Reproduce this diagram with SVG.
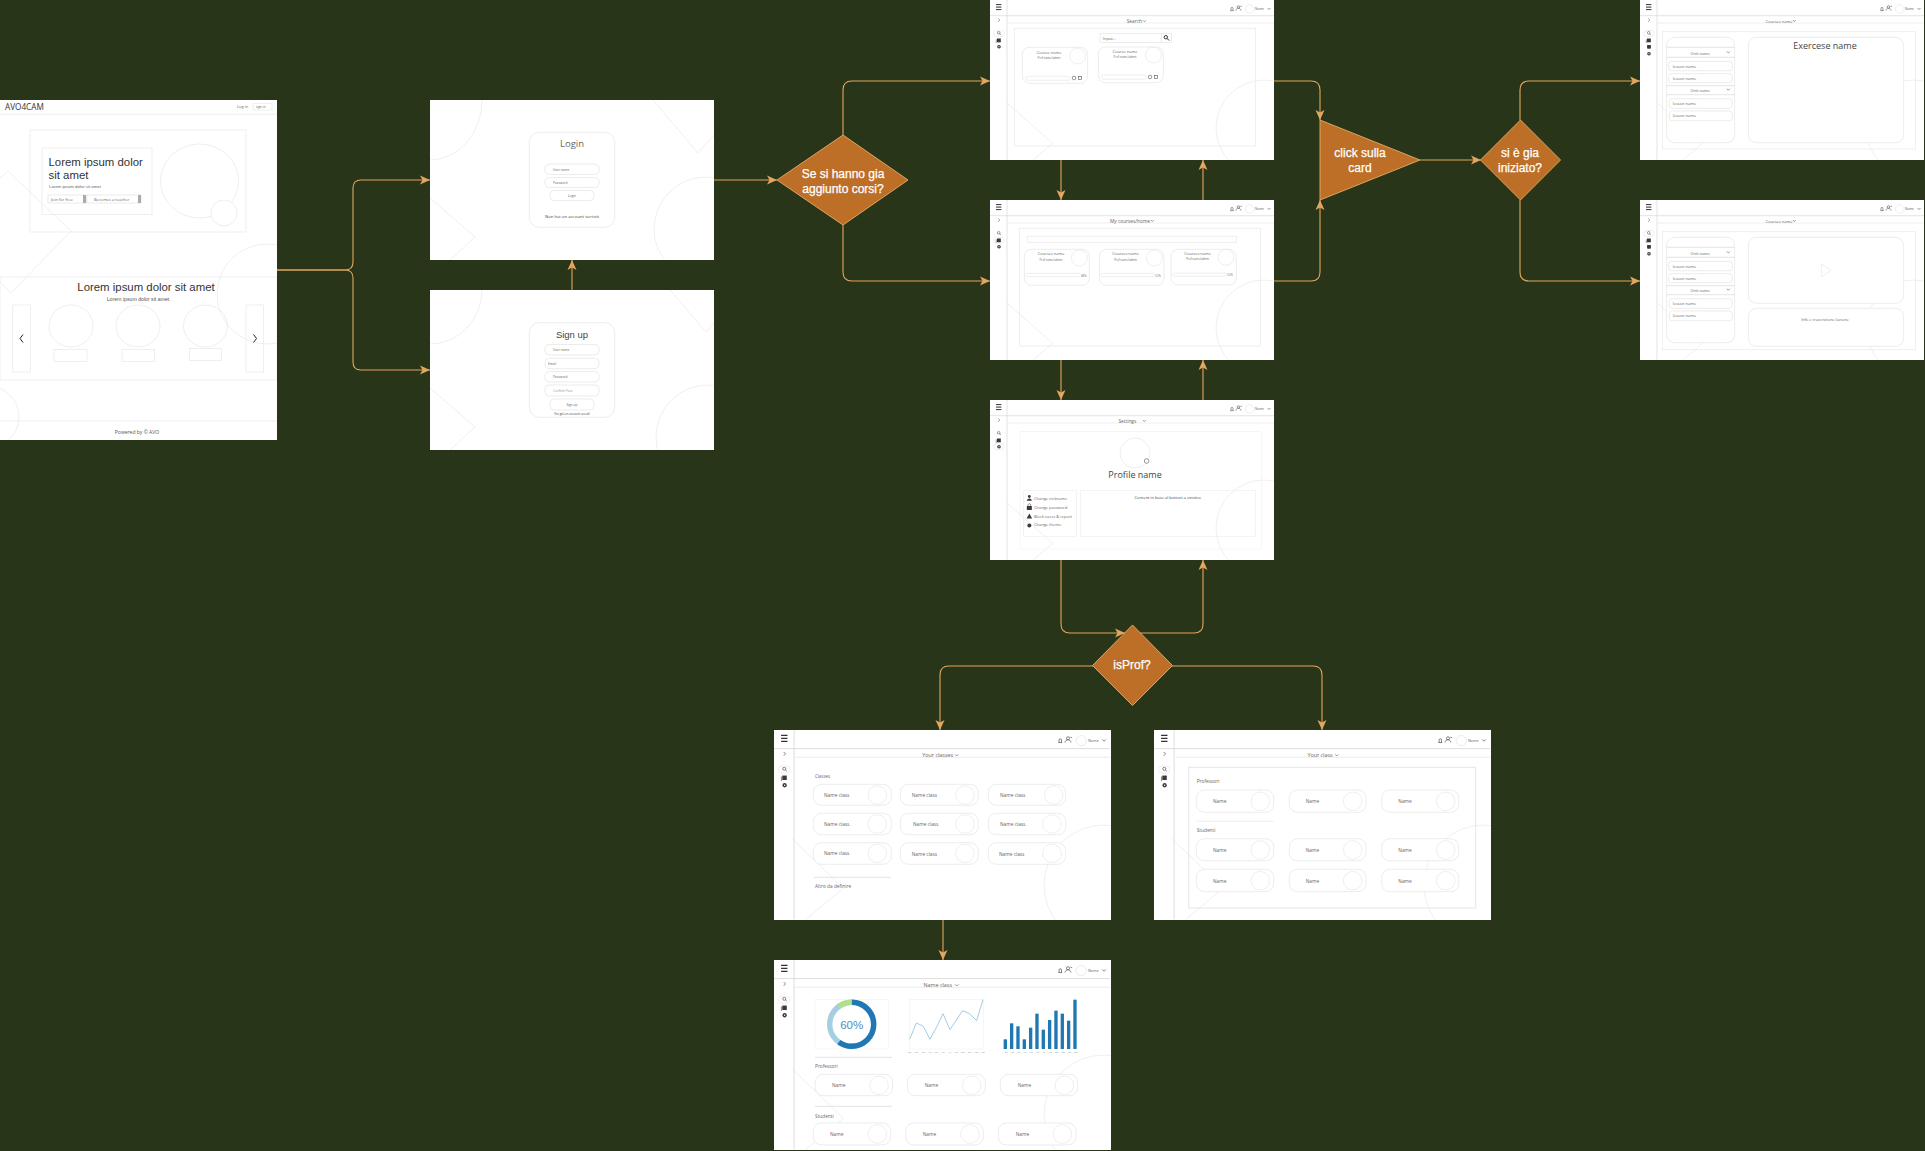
<svg xmlns="http://www.w3.org/2000/svg" xmlns:xlink="http://www.w3.org/1999/xlink" width="1925" height="1151" viewBox="0 0 1925 1151">
<style>
.scr{fill:#fff}
.bg{fill:none;stroke:#e8e8e8;stroke-width:.7}
.ln{fill:none;stroke:#ebebeb;stroke-width:.8}
.dk{fill:none;stroke:#dcdcdc;stroke-width:.8}
.box{fill:#fff;stroke:#e4e4e4;stroke-width:.7}
.ph{fill:none;stroke:#e2e2e2;stroke-width:.6}
.ic{fill:#3a3a3a}
.icl{fill:none;stroke:#555;stroke-width:.6}
text{font-family:"Open Sans","Noto Sans",sans-serif;fill:#666}
.m{text-anchor:middle}
.s3{font-size:3.2px}.s4{font-size:4px}.s5{font-size:4.8px}.s55{font-size:5.4px}
.ar{font-family:"Liberation Sans",Arial,sans-serif;fill:#333}
.dec{fill:#bd6f27;stroke:#dba55f;stroke-width:1}
.dt{font-family:"Liberation Sans",Arial,sans-serif;font-size:12px;fill:#fff;stroke:#fff;stroke-width:.25;text-anchor:middle}
.c{fill:none;stroke:#e2a65f;stroke-width:1.1;marker-end:url(#ah)}
</style>
<defs>
<marker id="ah" markerUnits="userSpaceOnUse" markerWidth="10" markerHeight="10" viewBox="0 0 10 10" refX="10" refY="5" orient="auto"><path d="M0,0.5 L10,5 L0,9.5 L2.5,5 Z" fill="#e2a65f"/></marker>
<clipPath id="cs"><rect width="284" height="160"/></clipPath>
<clipPath id="cl"><rect width="337" height="190"/></clipPath>
<clipPath id="ca"><rect width="277" height="340"/></clipPath>
<g id="chrome">
<path class="dk" d="M0,15.7H284M17,0V160"/><path class="ln" d="M17,23H284"/>
<path d="M6,4.6h5.4M6,7.1h5.4M6,9.6h5.4" stroke="#333" stroke-width="1" fill="none"/>
<path class="icl" d="M8.2,18.6l1.6,1.6-1.6,1.6"/>
<path class="icl" d="M240.4,10.6h3.2M241,10.6v-2.2a1,1 0 0 1 2,0v2.2"/>
<circle class="icl" cx="248.5" cy="7" r="1.3"/><path class="icl" d="M246,10.6c.3-3.2 4.7-3.2 5,0M250.5,6l1.5,.6"/>
<circle class="ph" cx="259.7" cy="9" r="4.3"/>
<path class="icl" d="M277.5,8l1.5,1.5 1.5-1.5"/>
<circle class="icl" cx="8.7" cy="32.8" r="1.3"/><path class="icl" d="M9.6,33.7l1.3,1.3"/>
<rect class="ic" x="7" y="38.5" width="3.8" height="3.8"/><path class="icl" d="M6.3,43V39.3"/>
<circle class="ic" cx="9" cy="46.7" r="1.8"/><circle cx="9" cy="46.7" r=".6" fill="#fff"/>
</g>
<g id="bgs">
<path class="bg" d="M17,103L62.7,143.3 43,160"/><ellipse class="bg" cx="274" cy="128" rx="48" ry="48"/>
</g>
<g id="bgl">
<path class="bg" d="M17.7,108.3L69.3,158.3 31,190"/><circle class="bg" cx="330" cy="155" r="60"/>
</g>
</defs>
<rect width="1925" height="1151" fill="#293518"/>

<g id="connectors">
<path class="c" d="M277,270H345Q353,270 353,262V188Q353,180 361,180H430"/>
<path class="c" d="M277,270H345Q353,270 353,278V362Q353,370 361,370H430"/>
<path class="c" d="M572,290V260"/>
<path class="c" d="M714,180H777"/>
<path class="c" d="M843,135V90Q843,81 852,81H990"/>
<path class="c" d="M843,225V272Q843,281 852,281H990"/>
<path class="c" d="M1061,160V200"/>
<path class="c" d="M1203,200V160"/>
<path class="c" d="M1061,360V400"/>
<path class="c" d="M1203,400V360"/>
<path class="c" d="M1274,81H1311Q1320,81 1320,90V120"/>
<path class="c" d="M1274,281H1311Q1320,281 1320,272V200"/>
<path class="c" d="M1420,160H1481"/>
<path class="c" d="M1520,120V90Q1520,81 1529,81H1640"/>
<path class="c" d="M1520,200V272Q1520,281 1529,281H1640"/>
<path class="c" d="M1061,560V624Q1061,633 1070,633H1125"/>
<path class="c" d="M1140,633H1194Q1203,633 1203,624V560"/>
<path class="c" d="M1093,666H949Q940,666 940,675V730"/>
<path class="c" d="M1172,666H1313Q1322,666 1322,675V730"/>
<path class="c" d="M943,920V960"/>
</g>

<g id="home" transform="translate(0,100)">
<rect class="scr" width="277" height="340"/>
<g clip-path="url(#ca)">
<path class="bg" d="M0,78L8,71 71,131 11,193 0,182"/><circle class="bg" cx="267" cy="194" r="50"/><circle class="bg" cx="-12" cy="317" r="31"/>
<path class="ln" d="M0,14.3H277M0,321H277"/>
<rect class="ln" x="30" y="30" width="216" height="102"/><rect class="ln" x="42" y="48" width="110" height="66.5"/>
<ellipse class="ph" cx="199.5" cy="81" rx="39" ry="37"/><circle class="ph" cx="224" cy="113" r="13" style="fill:#fff"/>
<rect class="ln" x="0" y="177" width="277" height="103"/>
<rect class="ln" x="12.7" y="205" width="17.8" height="67"/><rect class="ln" x="246" y="205" width="17.5" height="67"/>
<path d="M23,234.5l-3,4 3,4M253.5,234.5l3,4-3,4" fill="none" stroke="#222" stroke-width="1"/>
<ellipse class="ph" cx="71" cy="226" rx="22" ry="21"/><ellipse class="ph" cx="138" cy="226" rx="22" ry="21"/><ellipse class="ph" cx="205.5" cy="226" rx="22" ry="21"/>
<rect class="ln" x="54" y="249.5" width="33" height="12"/><rect class="ln" x="122" y="249.5" width="32.5" height="12"/><rect class="ln" x="189.5" y="248.5" width="32" height="12"/>
<rect x="48" y="95" width="38" height="8" fill="#fff" stroke="#ddd" stroke-width=".6"/><rect x="83" y="95" width="3" height="8" fill="#aaa"/>
<rect x="87" y="95" width="54" height="8" fill="#fff" stroke="#ddd" stroke-width=".6"/><rect x="138" y="95" width="3" height="8" fill="#aaa"/>
</g>
<text x="5" y="10" style="font-size:8.2px;fill:#333">AVO4CAM</text>
<text class="s4" x="237" y="8">Log in</text><rect class="ln" x="253" y="3.5" width="19" height="6.5"/><text class="s3" x="256" y="8">sign in</text>
<text class="ar" x="48.5" y="66" style="font-size:11.4px">Lorem ipsum dolor</text><text class="ar" x="48.5" y="79" style="font-size:11.4px">sit amet</text>
<text class="ar" x="49" y="88" style="font-size:4.3px;fill:#666">Lorem ipsum dolor sit amet</text>
<text class="s4" x="51" y="100.5">Join for free</text><text class="s4" x="94" y="100.5">Becomes a teacher</text>
<text class="ar m" x="146" y="191" style="font-size:11.4px">Lorem ipsum dolor sit amet</text>
<text class="ar m" x="138" y="200.5" style="font-size:5.2px;fill:#555">Lorem ipsum dolor sit amet</text>
<text class="s55 m" x="137" y="333.5" style="fill:#555;font-size:5px">Powered by © AVO</text>
</g>

<g id="login" transform="translate(430,100)">
<rect class="scr" width="284" height="160"/>
<g clip-path="url(#cs)">
<ellipse class="bg" cx="0" cy="0" rx="52" ry="60"/><path class="bg" d="M0,98L45,137 20,160"/><path class="bg" d="M223,0L268,53 284,35"/><circle class="bg" cx="276" cy="129" r="52"/>
<rect class="box" x="99.3" y="32.3" width="85.4" height="95" rx="10"/>
<rect class="box" x="115" y="64" width="54" height="10.5" rx="4"/><rect class="box" x="115" y="77.5" width="54" height="10" rx="4"/><rect class="box" x="120" y="90.5" width="44" height="10" rx="4"/>
</g>
<text class="m" x="142" y="46.7" style="font-size:9.5px">Login</text>
<text class="s3" x="123" y="70.5">User name</text><text class="s3" x="123" y="83.5">Password</text><text class="s3 m" x="142" y="96.5">Login</text>
<text class="m" x="142" y="118" style="font-size:4.3px;fill:#444">Non hai un account iscriviti</text>
</g>

<g id="signup" transform="translate(430,290)">
<rect class="scr" width="284" height="160"/>
<g clip-path="url(#cs)">
<ellipse class="bg" cx="0" cy="0" rx="52" ry="54"/><path class="bg" d="M0,98L45,137 20,160"/><path class="bg" d="M240,0L276,42 284,33"/><circle class="bg" cx="278" cy="147" r="52"/>
<rect class="box" x="99.3" y="32.7" width="85.4" height="94.6" rx="10"/>
<rect class="box" x="115" y="54.5" width="54" height="10.5" rx="4"/><rect class="box" x="115" y="68.3" width="54" height="10.4" rx="4"/><rect class="box" x="115" y="81.5" width="54" height="10.5" rx="4"/><rect class="box" x="115" y="95" width="54" height="11" rx="4"/><rect class="box" x="120" y="109" width="44" height="11" rx="4"/>
</g>
<text class="ar m" x="142" y="48" style="font-size:9.5px;fill:#444">Sign up</text>
<text class="s3" x="123" y="61">User name</text><text class="s3" x="118" y="75">Email</text><text class="s3" x="123" y="88">Password</text><text class="s3" x="123" y="102" style="fill:#999">Confirm Pass</text><text class="s3 m" x="142" y="115.5">Sign up</text>
<text class="m" x="142" y="125" style="font-size:3px;fill:#444">Hai già un account accedi</text>
</g>

<g id="search" transform="translate(990,0)">
<rect class="scr" width="284" height="160"/>
<g clip-path="url(#cs)"><use href="#bgs"/><use href="#chrome"/></g>
<rect class="ln" x="3.6" y="30.5" width="10.6" height="6" rx="3"/>
<text class="s3" x="265" y="10">Name</text>
<g transform="translate(-6.67,0)">
<rect class="ln" x="31" y="28.3" width="241" height="117.7"/>
<rect class="box" x="116.7" y="33.3" width="61.3" height="9"/><rect class="box" x="178" y="33.3" width="10" height="9"/>
<circle class="icl" cx="182.5" cy="37.2" r="1.7" style="stroke:#222;stroke-width:.9"/><path d="M183.8,38.5l2,2" stroke="#222" stroke-width="1"/>
<rect class="box" x="39" y="47.3" width="65.3" height="36" rx="7"/><circle class="ph" cx="94.3" cy="56" r="8"/><rect class="ln" x="42.7" y="76.3" width="44" height="4" rx="1"/>
<circle class="icl" cx="90.7" cy="78" r="1.8"/><rect class="icl" x="95" y="76.4" width="3.2" height="3.2"/>
<rect class="box" x="115" y="47" width="65" height="35.7" rx="7"/><circle class="ph" cx="170" cy="55" r="8"/><rect class="ln" x="118.7" y="75" width="43.6" height="4.3" rx="1"/>
<circle class="icl" cx="166.7" cy="77" r="1.8"/><rect class="icl" x="171" y="75.4" width="3.2" height="3.2"/>
<text class="s5 m" x="151" y="22.6">Search</text><path class="icl" d="M159.5,20.3l1.5,1.5 1.5-1.5"/>
<text class="s4" x="119.5" y="39.8">Input...</text>
<text class="s4 m" x="65.7" y="53.8">Course name</text><text class="m" x="65.7" y="59" style="font-size:2.8px">Prof name/admin</text>
<text class="s4 m" x="141.7" y="53.3">Course name</text><text class="m" x="141.7" y="58.2" style="font-size:2.8px">Prof name/admin</text>
</g>
</g>

<g id="mycourses" transform="translate(990,200)">
<rect class="scr" width="284" height="160"/>
<g clip-path="url(#cs)"><use href="#bgs"/><use href="#chrome"/></g>
<rect class="ln" x="3.6" y="37.2" width="10.6" height="6" rx="3"/>
<text class="s3" x="265" y="10">Name</text>
<g transform="translate(-6.67,0)">
<rect class="ln" x="36" y="28.3" width="241.3" height="117.7"/><rect class="ln" x="44" y="36.3" width="209.3" height="6"/>
<rect class="box" x="41" y="49.3" width="65" height="36" rx="7"/><circle class="ph" cx="96" cy="58" r="8"/><rect class="ln" x="42.7" y="73.3" width="54" height="3.4" rx="1"/>
<rect class="box" x="116" y="49.3" width="64.7" height="36" rx="7"/><circle class="ph" cx="171" cy="58" r="8"/><rect class="ln" x="117.7" y="73.3" width="53.3" height="3.4" rx="1"/>
<rect class="box" x="187.7" y="49.3" width="65.3" height="35.5" rx="7"/><circle class="ph" cx="242.7" cy="57.3" r="8"/><rect class="ln" x="189.7" y="73" width="53.3" height="3.4" rx="1"/>
<text class="s5 m" x="146.7" y="22.6">My courses/home</text><path class="icl" d="M167.5,20l1.5,1.5 1.5-1.5"/>
<text class="s4 m" x="67.7" y="55.3">Courses name</text><text class="m" x="67.7" y="60.5" style="font-size:2.8px">Prof name/admin</text><text x="97.7" y="76.7" style="font-size:2.8px">48%</text>
<text class="s4 m" x="142.3" y="55.3">Courses name</text><text class="m" x="142.3" y="60.5" style="font-size:2.8px">Prof name/admin</text><text x="172" y="76.7" style="font-size:2.8px">52%</text>
<text class="s4 m" x="214.3" y="54.6">Courses name</text><text class="m" x="214.3" y="59.8" style="font-size:2.8px">Prof name/admin</text><text x="244" y="76.4" style="font-size:2.8px">52%</text>
</g>
</g>

<g id="settings" transform="translate(990,400)">
<rect class="scr" width="284" height="160"/>
<g clip-path="url(#cs)"><use href="#bgs"/><use href="#chrome"/></g>
<rect class="ln" x="3.6" y="43.7" width="10.6" height="6" rx="3"/>
<text class="s3" x="265" y="10">Name</text>
<g transform="translate(-6.67,0)">
<rect x="36.7" y="31.7" width="241.3" height="117.3" fill="none" stroke="#f2f2f2" stroke-width=".7"/>
<circle class="ph" cx="151.7" cy="53" r="15"/><circle class="icl" cx="163.3" cy="61" r="2.3" style="fill:#fff"/>
<rect x="40" y="90.7" width="53.3" height="45.6" fill="none" stroke="#eee" stroke-width=".7"/><rect x="97.3" y="90.7" width="174.7" height="45.6" fill="none" stroke="#eee" stroke-width=".7"/>
<circle class="ic" cx="46" cy="96.5" r="1.4"/><path class="ic" d="M43.5,100.8c.4-3.2 4.6-3.2 5,0z"/>
<rect class="ic" x="43.5" y="106" width="5" height="4"/><path class="icl" d="M44.7,106v-1a1.3,1.3 0 0 1 2.6,0v1"/>
<path class="ic" d="M46,113.5l2.8,5h-5.6z"/>
<circle class="ic" cx="46" cy="125.5" r="2"/>
<text class="s5 m" x="144" y="22.6">Settings</text><path class="icl" d="M159.5,20l1.5,1.5 1.5-1.5"/>
<text class="m" x="151.7" y="78.3" style="font-size:9px;fill:#444">Profile name</text>
<text class="s4 m" x="184.3" y="98.5" style="fill:#444">Content in base al bottoni a sinistra</text>
<text class="s4" x="50.7" y="99.5">Change nickname</text><text class="s4" x="50.7" y="108.5">Change password</text><text class="s4" x="50.7" y="117.5">Block users &amp; report</text><text class="s4" x="50.7" y="126.3">Change theme</text>
</g>
</g>

<g id="exercise" transform="translate(1640,0)">
<rect class="scr" width="284" height="160"/>
<g clip-path="url(#cs)"><use href="#bgs"/><use href="#chrome"/></g>
<rect class="ln" x="3.6" y="30.5" width="10.6" height="6" rx="3"/>
<rect class="ic" x="7.2" y="45" width="3.6" height="3.6"/><circle class="ic" cx="9" cy="53.7" r="1.8"/><circle cx="9" cy="53.7" r=".6" fill="#fff"/>
<text class="s3" x="265" y="10">Name</text>
<g transform="translate(-6.67,0)">
<rect class="ln" x="29" y="31.7" width="253" height="117.3"/>
<rect class="box" x="33.3" y="37.3" width="68" height="105.4" rx="8"/><rect class="box" x="115" y="37.3" width="155.3" height="105.4" rx="8"/>
<path class="dk" d="M33.3,47.3H101.3M33.3,57.3H101.3M33.3,85.7H101.3M33.3,94.7H101.3"/>
<rect class="box" x="35.3" y="61.3" width="63.7" height="9.4" rx="3"/><rect class="box" x="35.3" y="73.7" width="63.7" height="9" rx="3"/><rect class="box" x="36" y="98.7" width="63" height="9.6" rx="3"/><rect class="box" x="36" y="111" width="63" height="9.7" rx="3"/>
<path class="icl" d="M93.5,51.5l1.5,1.5 1.5-1.5M93.5,88.7l1.5,1.5 1.5-1.5"/>
<text class="s4 m" x="145.7" y="22.6">Courses name</text><path class="icl" d="M159.5,20l1.5,1.5 1.5-1.5"/>
<text class="s4 m" x="67" y="54.5">Unit name</text><text class="s4 m" x="67" y="91.7">Unit name</text>
<text class="s4" x="39.3" y="67.5">lesson name</text><text class="s4" x="39.3" y="79.7">lesson name</text><text class="s4" x="39.3" y="105">lesson name</text><text class="s4" x="39.3" y="117">lesson name</text>
<text class="m" x="191.7" y="49" style="font-size:9px;fill:#444">Exercese name</text>
</g>
</g>

<g id="video" transform="translate(1640,200)">
<rect class="scr" width="284" height="160"/>
<g clip-path="url(#cs)"><use href="#bgs"/><use href="#chrome"/></g>
<rect class="ln" x="3.6" y="30.5" width="10.6" height="6" rx="3"/>
<rect class="ic" x="7.2" y="45" width="3.6" height="3.6"/><circle class="ic" cx="9" cy="53.7" r="1.8"/><circle cx="9" cy="53.7" r=".6" fill="#fff"/>
<text class="s3" x="265" y="10">Name</text>
<g transform="translate(-6.67,0)">
<rect class="ln" x="29" y="31.7" width="253" height="118"/>
<rect class="box" x="33.3" y="37.3" width="68" height="105.4" rx="8"/><rect class="box" x="115" y="37.3" width="155.3" height="66" rx="8"/><rect class="box" x="115" y="108.3" width="155.3" height="38" rx="8"/>
<path class="ph" d="M188.3,64L197.7,70.3 188.3,76.7Z"/>
<path class="dk" d="M33.3,47.3H101.3M33.3,57.3H101.3M33.3,85.7H101.3M33.3,94.7H101.3"/>
<rect class="box" x="35.3" y="61.3" width="63.7" height="9.4" rx="3"/><rect class="box" x="35.3" y="73.7" width="63.7" height="9" rx="3"/><rect class="box" x="36" y="98.7" width="63" height="9.6" rx="3"/><rect class="box" x="36" y="111" width="63" height="9.7" rx="3"/>
<path class="icl" d="M93.5,51.5l1.5,1.5 1.5-1.5M93.5,88.7l1.5,1.5 1.5-1.5"/>
<text class="s4 m" x="145.7" y="22.6">Courses name</text><path class="icl" d="M159.5,20l1.5,1.5 1.5-1.5"/>
<text class="s4 m" x="67" y="54.5">Unit name</text><text class="s4 m" x="67" y="91.7">Unit name</text>
<text class="s4" x="39.3" y="67.5">lesson name</text><text class="s4" x="39.3" y="79.7">lesson name</text><text class="s4" x="39.3" y="105">lesson name</text><text class="s4" x="39.3" y="117">lesson name</text>
<text class="s4 m" x="191.7" y="120.5">Info e trascrizione lezione</text>
</g>
</g>

<g id="classes" transform="translate(774,730)">
<rect class="scr" width="337" height="190"/>
<g clip-path="url(#cl)"><use href="#bgl"/><use href="#chrome" transform="scale(1.183)"/></g>
<rect class="ln" x="4.3" y="36" width="11.7" height="7.3" rx="3.6"/>
<text class="s55 m" x="163.7" y="26.6">Your classes</text><path class="icl" d="M181,24.3l1.7,1.7 1.7-1.7"/>
<text x="314" y="12" style="font-size:3.8px">Name</text>
<text class="s4" x="41" y="48" style="font-size:4.4px">Classes</text>
<rect class="box" x="39.3" y="54.3" width="78" height="21" rx="8"/><rect class="box" x="126.3" y="54.3" width="78" height="21" rx="8"/><rect class="box" x="214.3" y="54.3" width="77.4" height="21" rx="8"/>
<rect class="box" x="39.3" y="83.3" width="78" height="21.4" rx="8"/><rect class="box" x="126.3" y="83.3" width="78" height="21.4" rx="8"/><rect class="box" x="214.3" y="83.3" width="77.4" height="21.4" rx="8"/>
<rect class="box" x="39.3" y="112.7" width="78" height="21.6" rx="8"/><rect class="box" x="126.3" y="112.7" width="78" height="21.6" rx="8"/><rect class="box" x="214.3" y="112.7" width="77.4" height="21.6" rx="8"/>
<circle class="ph" cx="103.3" cy="65" r="9.3"/><circle class="ph" cx="191" cy="65" r="9.3"/><circle class="ph" cx="279.7" cy="65" r="9.3"/>
<circle class="ph" cx="103.3" cy="94" r="9.3"/><circle class="ph" cx="191" cy="94" r="9.3"/><circle class="ph" cx="278" cy="94" r="9.3"/>
<circle class="ph" cx="103.3" cy="123.3" r="9.3"/><circle class="ph" cx="191" cy="123.3" r="9.3"/><circle class="ph" cx="278" cy="123.3" r="9.3"/>
<text class="s5" x="50" y="67">Name class</text><text class="s5" x="137.7" y="67">Name class</text><text class="s5" x="226" y="67">Name class</text>
<text class="s5" x="50" y="96">Name class</text><text class="s5" x="139" y="96">Name class</text><text class="s5" x="226" y="96">Name class</text>
<text class="s5" x="50" y="125.3">Name class</text><text class="s5" x="137.7" y="125.7">Name class</text><text class="s5" x="225" y="125.7">Name class</text>
<path class="dk" d="M39.7,147.3H117"/>
<text class="s5" x="41" y="158">Altro da definire</text>
</g>

<g id="yourclass" transform="translate(1154,730)">
<rect class="scr" width="337" height="190"/>
<g clip-path="url(#cl)"><use href="#bgl"/><use href="#chrome" transform="scale(1.183)"/></g>
<rect class="ln" x="4.3" y="36" width="11.7" height="7.3" rx="3.6"/>
<text class="s55 m" x="166" y="26.6">Your class</text><path class="icl" d="M181,24.3l1.7,1.7 1.7-1.7"/>
<text x="314" y="12" style="font-size:3.8px">Name</text>
<rect x="34.7" y="37.3" width="287" height="140.7" fill="none" stroke="#e6e6e6" stroke-width="1"/>
<text class="s5" x="42.7" y="53.3">Professori</text><text class="s5" x="42.7" y="101.7">Studenti</text>
<path class="ln" d="M42.3,91.3H119.7"/>
<rect class="box" x="42.3" y="60" width="77.4" height="22.3" rx="8"/><rect class="box" x="135.3" y="60" width="76.7" height="22.3" rx="8"/><rect class="box" x="227.7" y="60" width="77" height="22.3" rx="8"/>
<rect class="box" x="42.3" y="108.7" width="77.4" height="22" rx="8"/><rect class="box" x="135.3" y="108.7" width="76.7" height="22" rx="8"/><rect class="box" x="227.7" y="108.7" width="77" height="22" rx="8"/>
<rect class="box" x="42.3" y="139.3" width="77.4" height="22.4" rx="8"/><rect class="box" x="135.3" y="139.3" width="76.7" height="22.4" rx="8"/><rect class="box" x="227.7" y="139.3" width="77" height="22.4" rx="8"/>
<circle class="ph" cx="106.3" cy="71.3" r="9.3"/><circle class="ph" cx="198.7" cy="71.3" r="9.3"/><circle class="ph" cx="291.7" cy="71.3" r="9.3"/>
<circle class="ph" cx="106.3" cy="120" r="9.3"/><circle class="ph" cx="198.7" cy="120" r="9.3"/><circle class="ph" cx="291.7" cy="120" r="9.3"/>
<circle class="ph" cx="106.3" cy="150.7" r="9.3"/><circle class="ph" cx="198.7" cy="150.7" r="9.3"/><circle class="ph" cx="291.7" cy="150.7" r="9.3"/>
<text class="s5" x="59" y="73">Name</text><text class="s5" x="151.7" y="73">Name</text><text class="s5" x="244.3" y="73">Name</text>
<text class="s5" x="59" y="122">Name</text><text class="s5" x="151.7" y="122">Name</text><text class="s5" x="244.3" y="122">Name</text>
<text class="s5" x="59" y="152.5">Name</text><text class="s5" x="151.7" y="152.5">Name</text><text class="s5" x="244.3" y="152.5">Name</text>
</g>

<g id="nameclass" transform="translate(774,960)">
<rect class="scr" width="337" height="190"/>
<g clip-path="url(#cl)"><use href="#bgl"/><use href="#chrome" transform="scale(1.183)"/></g>
<rect class="ln" x="4.3" y="36" width="11.7" height="7.3" rx="3.6"/>
<text class="s55 m" x="163.7" y="26.6">Name class</text><path class="icl" d="M181,24.3l1.7,1.7 1.7-1.7"/>
<text x="314" y="12" style="font-size:3.8px">Name</text>
<rect x="41" y="39.3" width="73.3" height="49.7" fill="#fff" stroke="#f2f2f2" stroke-width=".6"/>
<circle cx="77.7" cy="64.3" r="22" fill="none" stroke="#a6cee3" stroke-width="5.4"/>
<circle cx="77.7" cy="64.3" r="22" fill="none" stroke="#1f78b4" stroke-width="5.4" pathLength="100" stroke-dasharray="60 40" transform="rotate(-90 77.7 64.3)"/>
<circle cx="77.7" cy="64.3" r="22" fill="none" stroke="#b2df8a" stroke-width="5.4" pathLength="100" stroke-dasharray="10 90" stroke-dashoffset="-90" transform="rotate(-90 77.7 64.3)"/>
<text class="m" x="77.7" y="69" style="font-size:11.5px;fill:#4a90c4;font-family:'Liberation Sans',Arial,sans-serif">60%</text>
<g transform="translate(-4,-5) scale(.3333)">
<rect x="418" y="133" width="223" height="149" fill="#fff" stroke="#f2f2f2" stroke-width="2"/>
<polyline points="419,253 439,204 460,214 480,253 499,218 519,176 540,224 559,195 578,167 599,176 620,197 639,134" fill="none" stroke="#8fc0e0" stroke-width="2.5"/>
<g fill="#1f78b4">
<rect x="701" y="253" width="10" height="29"/><rect x="720" y="205" width="10" height="77"/><rect x="739" y="214" width="10" height="68"/><rect x="758" y="253" width="10" height="29"/><rect x="777" y="218" width="10" height="64"/><rect x="796" y="176" width="10" height="106"/><rect x="815" y="224" width="10" height="58"/><rect x="834" y="195" width="10" height="87"/><rect x="853" y="167" width="10" height="115"/><rect x="872" y="176" width="10" height="106"/><rect x="891" y="197" width="10" height="85"/><rect x="910" y="134" width="10" height="148"/>
</g>
</g>
<g style="font-size:2px">
<text class="m" style="fill:#888" x="135.7" y="93">Jan</text><text class="m" style="fill:#888" x="142.3" y="93">Feb</text><text class="m" style="fill:#888" x="149.3" y="93">Mar</text><text class="m" style="fill:#888" x="156" y="93">Apr</text><text class="m" style="fill:#888" x="162.3" y="93">May</text><text class="m" style="fill:#888" x="169" y="93">Jun</text><text class="m" style="fill:#888" x="176" y="93">Jul</text><text class="m" style="fill:#888" x="182.3" y="93">Aug</text><text class="m" style="fill:#888" x="188.7" y="93">Sep</text><text class="m" style="fill:#888" x="195.7" y="93">Oct</text><text class="m" style="fill:#888" x="202.7" y="93">Nov</text><text class="m" style="fill:#888" x="209" y="93">Dec</text>
<text class="m" style="fill:#888" x="232" y="93">Jan</text><text class="m" style="fill:#888" x="238.3" y="93">Feb</text><text class="m" style="fill:#888" x="244.7" y="93">Mar</text><text class="m" style="fill:#888" x="251" y="93">Apr</text><text class="m" style="fill:#888" x="257.3" y="93">May</text><text class="m" style="fill:#888" x="263.7" y="93">Jun</text><text class="m" style="fill:#888" x="270" y="93">Jul</text><text class="m" style="fill:#888" x="276.3" y="93">Aug</text><text class="m" style="fill:#888" x="282.7" y="93">Sep</text><text class="m" style="fill:#888" x="289" y="93">Oct</text><text class="m" style="fill:#888" x="295.3" y="93">Nov</text><text class="m" style="fill:#888" x="301.7" y="93">Dec</text>
</g>
<path class="dk" d="M41,97.3H118M41,146.3H118"/>
<text class="s5" x="41" y="107.5">Professori</text><text class="s5" x="41" y="157.5">Studenti</text>
<rect class="box" x="41.3" y="114.3" width="77.4" height="21.4" rx="8"/><rect class="box" x="133.3" y="114.3" width="78" height="21.4" rx="8"/><rect class="box" x="226.3" y="114.3" width="77.4" height="21.4" rx="8"/>
<rect class="box" x="39.3" y="163" width="77.4" height="22" rx="8"/><rect class="box" x="131.7" y="163" width="77.6" height="22" rx="8"/><rect class="box" x="224.3" y="163" width="77.7" height="22" rx="8"/>
<circle class="ph" cx="105" cy="125.3" r="9.3"/><circle class="ph" cx="197.7" cy="125.3" r="9.3"/><circle class="ph" cx="290.3" cy="125.3" r="9.3"/>
<circle class="ph" cx="103.3" cy="174" r="9.3"/><circle class="ph" cx="196" cy="174" r="9.3"/><circle class="ph" cx="288.3" cy="174" r="9.3"/>
<text class="s5" x="58" y="127.3">Name</text><text class="s5" x="150.7" y="127.3">Name</text><text class="s5" x="243.7" y="127.3">Name</text>
<text class="s5" x="56" y="175.8">Name</text><text class="s5" x="148.7" y="175.8">Name</text><text class="s5" x="241.7" y="175.8">Name</text>
</g>

<g id="decision-courses"><path class="dec" d="M843,135L908,180 843,225 777,180Z"/><text class="dt" x="843" y="178">Se si hanno gia</text><text class="dt" x="843" y="193">aggiunto corsi?</text></g>
<g id="click-card"><path class="dec" d="M1320,120L1420,160 1320,200Z"/><text class="dt" x="1360" y="156.7">click sulla</text><text class="dt" x="1360" y="171.7">card</text></g>
<g id="decision-started"><path class="dec" d="M1520.5,120L1560.5,160 1520.5,200 1480.5,160Z"/><text class="dt" x="1520" y="156.7">si è gia</text><text class="dt" x="1520" y="171.7">iniziato?</text></g>
<g id="decision-prof"><path class="dec" d="M1132.5,625L1172.5,665.5 1132.5,705.5 1092.5,665.5Z"/><text class="dt" x="1132" y="669">isProf?</text></g>
</svg>
